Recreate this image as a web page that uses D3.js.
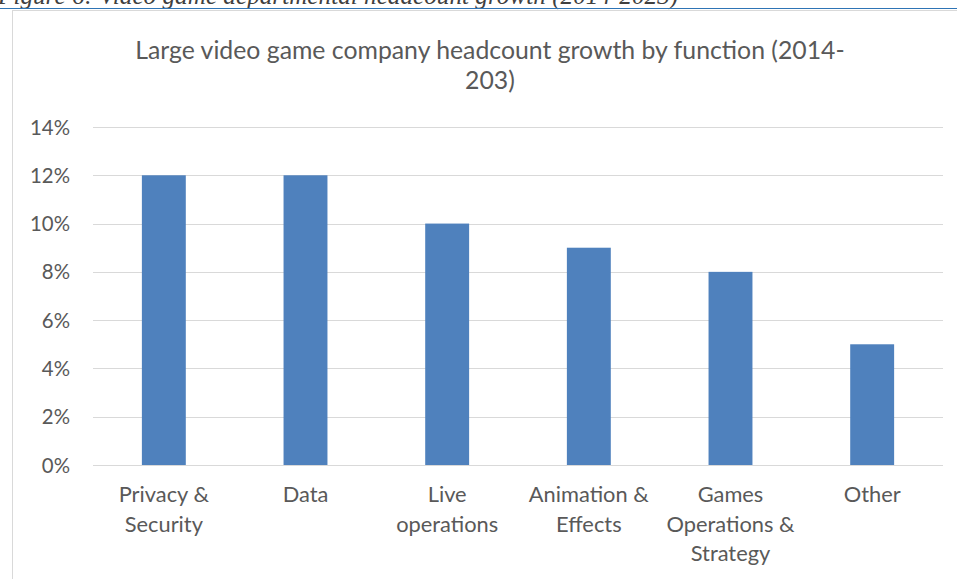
<!DOCTYPE html>
<html><head><meta charset="utf-8">
<script src="https://cdn.jsdelivr.net/npm/d3@7"></script>
<style>html,body{margin:0;padding:0;background:#fff;overflow:hidden}</style>
</head><body>
<svg id="c" width="957" height="579"></svg>
<script>
const categories = [["Privacy &","Security"],["Data"],["Live","operations"],["Animation &","Effects"],["Games","Operations &","Strategy"],["Other"]];
const values = [0.12, 0.12, 0.10, 0.09, 0.08, 0.05];
const yTicks = [0, 0.02, 0.04, 0.06, 0.08, 0.10, 0.12, 0.14];
const titleLines = ["Large video game company headcount growth by function (2014-", "203)"];
const caption = "Figure 6: Video game departmental headcount growth (2014-2023)";

const svg = d3.select("#c");
const font = "Lato, Calibri, 'Noto Sans', sans-serif";
const M = {left: 93, right: 943, top: 127, bottom: 465};

// helper: font size so that a string spans a given width
function fitSize(str, family, style, target) {
  const t = svg.append("text").attr("font-family", family).attr("font-style", style)
    .attr("font-size", 100).text(str);
  const w = t.node().getComputedTextLength();
  t.remove();
  return 100 * target / w;
}
const capSize = fitSize("Figure 6: Video game departmental headcount gr", "'Liberation Serif', serif", "italic", 500);
const titleSize = fitSize(titleLines[0], font, "normal", 710);
const labelSize = fitSize("Animation &", font, "normal", 120);
const tickSize = fitSize("14%", font, "normal", 40);

// caption (cut off at top)
svg.append("text").attr("x", -2).attr("y", 4)
  .attr("font-family", "'Liberation Serif', serif").attr("font-style", "italic")
  .attr("font-size", capSize).attr("fill", "#404040").text(caption);
// chart frame
svg.append("rect").attr("x", 12.5).attr("y", 10.5).attr("width", 960).attr("height", 600)
  .attr("fill", "#fff").attr("stroke", "#d9d9d9").attr("stroke-width", 1);
svg.append("line").attr("x1", 0).attr("x2", 957).attr("y1", 8.5).attr("y2", 8.5)
  .attr("stroke", "#2e74b5").attr("stroke-width", 1.2);

const x = d3.scaleBand().domain(d3.range(categories.length)).range([M.left, M.right]).paddingInner(0.69).paddingOuter(0.345);
const y = d3.scaleLinear().domain([0, 0.14]).range([M.bottom, M.top]);

// gridlines
svg.append("g").selectAll("line").data(yTicks).join("line")
  .attr("x1", M.left).attr("x2", M.right)
  .attr("y1", d => Math.round(y(d)) + 0.5).attr("y2", d => Math.round(y(d)) + 0.5)
  .attr("stroke", "#d9d9d9").attr("stroke-width", 1);

// y axis labels
const yAxis = d3.axisLeft(y).tickValues(yTicks).tickFormat(d3.format(".0%")).tickSize(0).tickPadding(0);
const ga = svg.append("g").attr("transform", `translate(${M.left - 23},0)`).call(yAxis);
ga.select(".domain").remove();
ga.selectAll("text").attr("font-family", font).attr("font-size", tickSize).attr("fill", "#595959").attr("dy", "0.35em");

// bars
svg.append("g").selectAll("rect").data(values).join("rect")
  .attr("x", (d, i) => x(i)).attr("width", x.bandwidth())
  .attr("y", d => y(d)).attr("height", d => y(0) - y(d))
  .attr("fill", "#4f81bd");

// category labels
const cx = d3.scaleBand().domain(d3.range(categories.length)).range([M.left, M.right]);
const cl = svg.append("g").selectAll("text").data(categories).join("text")
  .attr("text-anchor", "middle").attr("font-family", font).attr("font-size", labelSize).attr("fill", "#595959")
  .attr("x", (d, i) => cx(i) + cx.bandwidth() / 2).attr("y", 502);
cl.selectAll("tspan").data(d => d).join("tspan")
  .attr("x", function() { return this.parentNode.getAttribute("x"); })
  .attr("dy", (d, i) => i === 0 ? 0 : 29.5).text(d => d);

// title
svg.append("text").attr("text-anchor", "middle").attr("font-family", font).attr("font-size", titleSize).attr("fill", "#595959")
  .selectAll("tspan").data(titleLines).join("tspan")
  .attr("x", 490).attr("y", (d, i) => 59 + i * 30).text(d => d);
</script>
</body></html>
